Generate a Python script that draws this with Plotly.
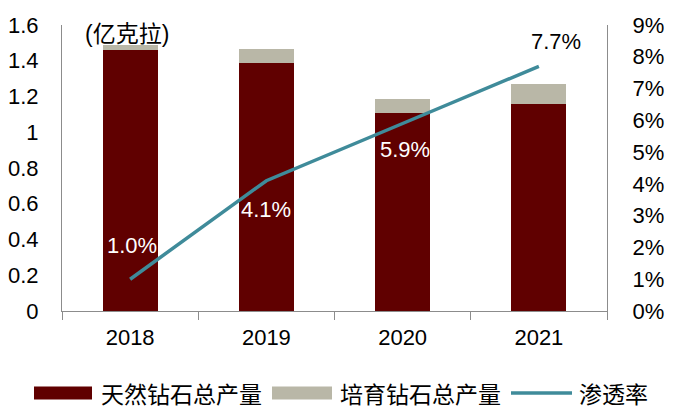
import plotly.graph_objects as go

years = ["2018", "2019", "2020", "2021"]
natural = [1.46, 1.39, 1.11, 1.16]
lab_grown = [0.026, 0.074, 0.078, 0.112]
penetration = [0.010, 0.041, 0.059, 0.077]
rate_labels = ["1.0%", "4.1%", "5.9%", "7.7%"]
unit_label = "(亿克拉)"
legend_names = ["天然钻石总产量", "培育钻石总产量", "渗透率"]

# styling (page has an 8px body margin, so figure is drawn 8px smaller and offset)
OFF = 8
W, H = 678 - OFF, 418 - OFF
PL, PR, PT, PB = 62, 607, 25, 311  # plot area in window pixels
L, R, T, B = PL - OFF, W - (PR - OFF), PT - OFF, H - (PB - OFF)
C_NAT = "#600000"
C_LAB = "#B9B7A7"
C_LINE = "#3F8B9A"
AXIS_C = "#8C8C8C"
FONT = "Liberation Sans, Arial, Noto Sans CJK SC"
CJK = "Noto Sans CJK SC, Liberation Sans"
FS = 22

pw, ph = PR - PL, PB - PT


def px(x):
    return (x - PL) / pw


def py(y):
    return (PB - y) / ph


xi = list(range(len(years)))
bounds = [i - 0.5 for i in range(len(years) + 1)]

fig = go.Figure()
fig.add_trace(go.Bar(x=xi, y=natural, name=legend_names[0], marker=dict(color=C_NAT, line=dict(width=0)),
                     showlegend=False))
fig.add_trace(go.Bar(x=xi, y=lab_grown, name=legend_names[1], marker=dict(color=C_LAB, line=dict(width=0)),
                     showlegend=False))
fig.add_trace(go.Scatter(x=xi, y=penetration, name=legend_names[2], mode="lines", yaxis="y2",
                         line=dict(color=C_LINE, width=3.5), showlegend=False))

# data labels (offsets are style)
label_shift = [(2, 34), (0, -29), (2, -26), (17, 25)]
label_color = ["white", "white", "white", "black"]
annotations = []
for i, (v, t) in enumerate(zip(penetration, rate_labels)):
    annotations.append(dict(x=xi[i], y=v, xref="x", yref="y2", text=t, showarrow=False,
                            xshift=label_shift[i][0], yshift=label_shift[i][1],
                            font=dict(family=FONT, size=FS, color=label_color[i])))

annotations.append(dict(x=px(83), y=py(34), xref="paper", yref="paper", text=unit_label, showarrow=False,
                        xanchor="left", yanchor="middle", font=dict(family=FONT, size=23, color="black")))

# custom legend
shapes = []
leg_y = 393
sw = [(34, 92, C_NAT, 99), (272, 332, C_LAB, 338)]
for i, (x0, x1, c, tx) in enumerate(sw):
    shapes.append(dict(type="rect", xref="paper", yref="paper", x0=px(x0), x1=px(x1),
                       y0=py(leg_y + 6.5), y1=py(leg_y - 6.5), fillcolor=c, line=dict(width=0)))
    annotations.append(dict(x=px(tx), y=py(leg_y), xref="paper", yref="paper", text=legend_names[i],
                            showarrow=False, xanchor="left", yanchor="middle",
                            font=dict(family=CJK, size=23, color="black")))
shapes.append(dict(type="line", xref="paper", yref="paper", x0=px(511), x1=px(572), y0=py(leg_y), y1=py(leg_y),
                   line=dict(color=C_LINE, width=3.5)))
annotations.append(dict(x=px(577), y=py(leg_y), xref="paper", yref="paper", text=legend_names[2],
                        showarrow=False, xanchor="left", yanchor="middle",
                        font=dict(family=CJK, size=23, color="black")))

fig.update_layout(
    width=W, height=H,
    margin=dict(l=L, r=R, t=T, b=B, pad=0, autoexpand=False),
    barmode="stack", bargap=0.595,
    paper_bgcolor="white", plot_bgcolor="white",
    font=dict(family=FONT, size=FS, color="black"),
    xaxis=dict(range=[-0.5, len(years) - 0.5], tickvals=xi, ticktext=years, showline=True,
               linecolor=AXIS_C, linewidth=1, ticks="", showgrid=False, zeroline=False, automargin=False,
               ticklabelstandoff=7, tickfont=dict(size=FS),
               minor=dict(tickvals=bounds, ticks="outside", ticklen=8, tickcolor=AXIS_C, showgrid=False)),
    yaxis=dict(range=[0, 1.6], dtick=0.2, showline=True, linecolor=AXIS_C, linewidth=1, automargin=False,
               showgrid=False, zeroline=False, ticks="", ticklabelstandoff=18, tickfont=dict(size=FS)),
    yaxis2=dict(range=[0, 0.09], dtick=0.01, tickformat=".0%", overlaying="y", side="right",
                showline=True, linecolor=AXIS_C, linewidth=1, showgrid=False, zeroline=False,
                automargin=False, ticks="", ticklabelstandoff=20, tickfont=dict(size=FS)),
    annotations=annotations,
    shapes=shapes,
    showlegend=False,
)

fig.write_html("out.html")
